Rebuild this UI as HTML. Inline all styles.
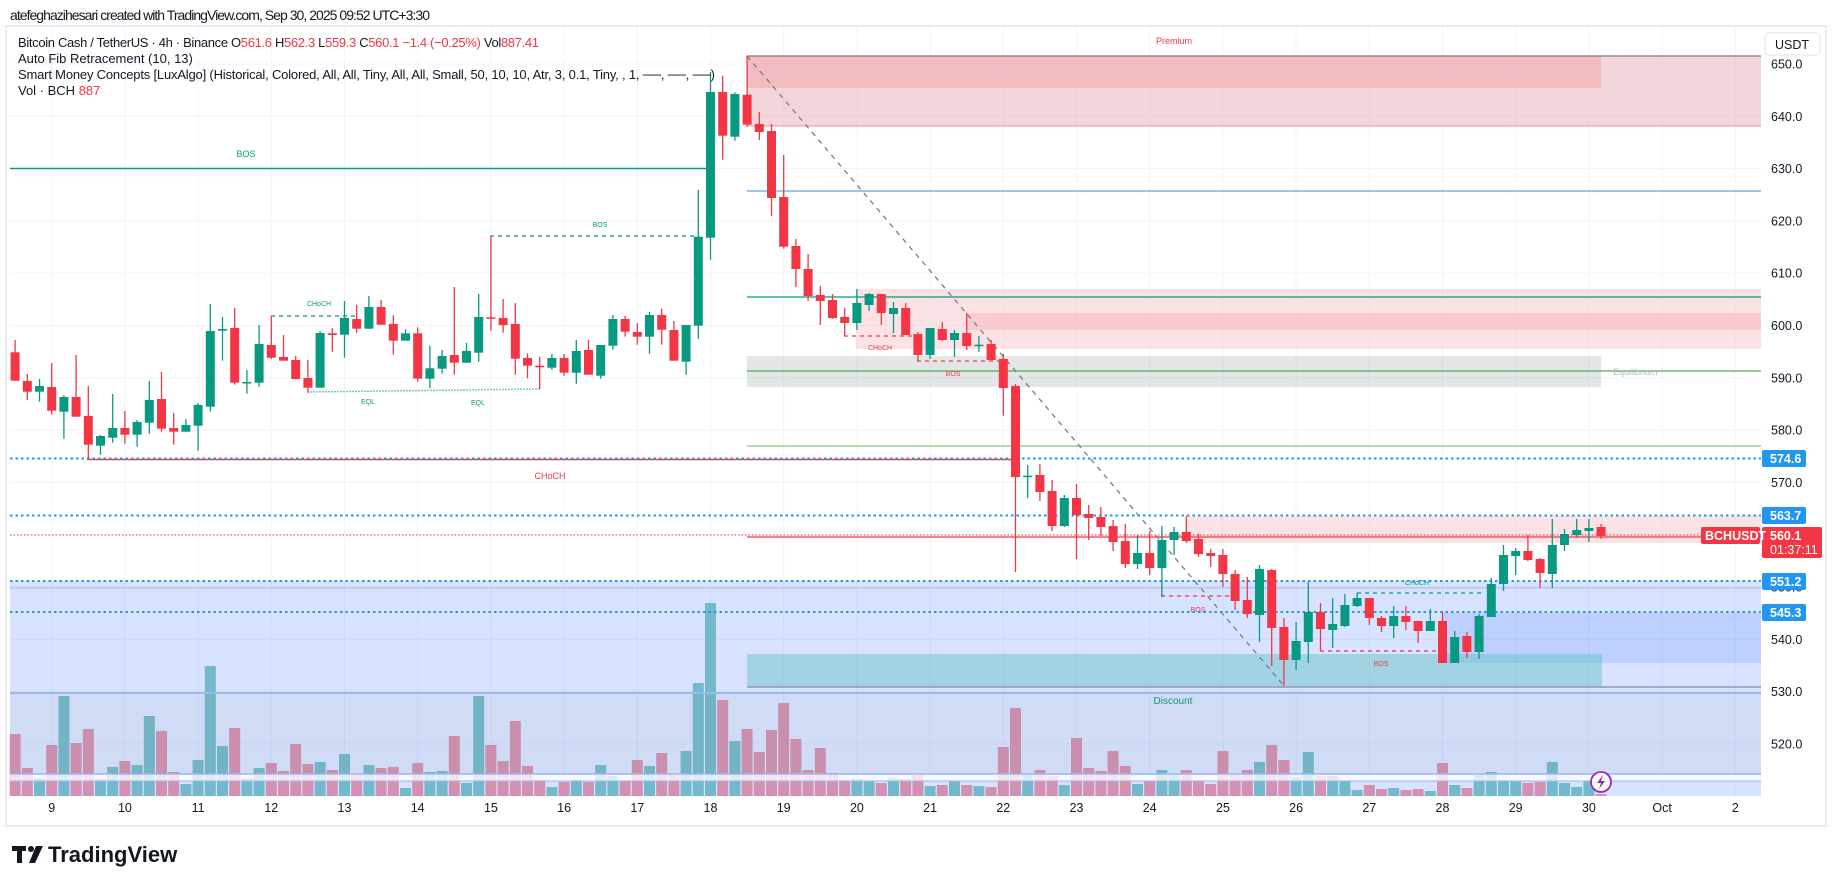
<!DOCTYPE html>
<html><head><meta charset="utf-8"><style>
html,body{margin:0;padding:0;background:#fff;width:1835px;height:883px;overflow:hidden}
svg{display:block}
text{font-family:"Liberation Sans",sans-serif}
</style></head><body>
<svg id="s" width="1835" height="883" viewBox="0 0 1835 883" xmlns="http://www.w3.org/2000/svg">
<rect width="1835" height="883" fill="#fff"/>
<text x="10" y="20" font-size="14" fill="#131722" textLength="420">atefeghazihesari created with TradingView.com, Sep 30, 2025 09:52 UTC+3:30</text>
<rect x="6" y="26" width="1820" height="800" fill="#fff" stroke="#e9ebf0" stroke-width="2"/>
<g id="grid"></g>
<g id="vol"></g>
<!-- zones -->
<rect x="10" y="581" width="1751" height="215" fill="#2962ff" opacity="0.18"/>
<rect x="10" y="693" width="1751" height="81" fill="#787b86" opacity="0.07"/>
<rect x="10" y="774" width="1751" height="7" fill="#fff" opacity="0.75"/>
<line x1="10" y1="588" x2="1761" y2="588" stroke="#aac0f0" stroke-width="1"/>
<line x1="10" y1="693" x2="1761" y2="693" stroke="#9fb5f0" stroke-width="2"/>
<line x1="10" y1="774" x2="1761" y2="774" stroke="#9fb5f0" stroke-width="1.5"/>
<line x1="10" y1="781" x2="1761" y2="781" stroke="#9fb5f0" stroke-width="1"/>
<rect x="1442" y="613" width="319" height="50" fill="#2962ff" opacity="0.15"/>
<rect x="747" y="654" width="855" height="33" fill="#5fbfc0" opacity="0.45"/>
<line x1="747" y1="687" x2="1761" y2="687" stroke="#8e96bd" stroke-width="1.5"/>
<rect x="747" y="56" width="1014" height="70" fill="#e8b4b9" opacity="0.55"/>
<rect x="747" y="56" width="854" height="32" fill="#f28a94" opacity="0.35"/>
<line x1="747" y1="56" x2="1761" y2="56" stroke="#787b86" stroke-width="1.2"/>
<line x1="747" y1="126" x2="1761" y2="126" stroke="#e39aa1" stroke-width="1"/>
<rect x="856" y="289" width="905" height="60" fill="#f7c6cb" opacity="0.5"/>
<rect x="966" y="313" width="795" height="17" fill="#f2a0a8" opacity="0.35"/>
<rect x="1187" y="516" width="574" height="27" fill="#f7c6cb" opacity="0.5"/>
<rect x="747" y="356" width="854" height="31" fill="#9598a1" opacity="0.25"/>
<!-- fib lines -->
<line x1="747" y1="191" x2="1761" y2="191" stroke="#64a5e0" stroke-width="1.3"/>
<line x1="747" y1="297" x2="1761" y2="297" stroke="#089981" stroke-width="1.3"/>
<line x1="747" y1="371" x2="1761" y2="371" stroke="#4caf50" stroke-width="1.3"/>
<line x1="747" y1="446" x2="1761" y2="446" stroke="#81c784" stroke-width="1.3"/>
<line x1="747" y1="537" x2="1761" y2="537" stroke="#f23645" stroke-width="1.3"/>
<line x1="747" y1="56" x2="1285" y2="687" stroke="#787b86" stroke-width="1.3" stroke-dasharray="5 5"/>
<!-- structure lines -->
<line x1="10" y1="168.5" x2="708" y2="168.5" stroke="#089981" stroke-width="1.5"/>
<text x="246" y="157" font-size="9" fill="#089981" text-anchor="middle">BOS</text>
<line x1="87" y1="459.5" x2="1012" y2="459.5" stroke="#f23645" stroke-width="1.5"/>
<text x="550" y="479" font-size="9" fill="#f23645" text-anchor="middle">CHoCH</text>
<line x1="271" y1="316" x2="357" y2="316" stroke="#089981" stroke-width="1.3" stroke-dasharray="4 4"/>
<text x="319" y="306" font-size="7" fill="#089981" text-anchor="middle">CHoCH</text>
<line x1="307" y1="392" x2="539" y2="389" stroke="#7cc8b8" stroke-width="1.5" stroke-dasharray="2 1"/>
<text x="368" y="404" font-size="7" fill="#089981" text-anchor="middle">EQL</text>
<text x="478" y="405" font-size="7" fill="#089981" text-anchor="middle">EQL</text>
<line x1="490" y1="236" x2="695" y2="236" stroke="#089981" stroke-width="1.3" stroke-dasharray="4 4"/>
<text x="600" y="227" font-size="7" fill="#089981" text-anchor="middle">BOS</text>
<line x1="844" y1="336" x2="913" y2="336" stroke="#f23645" stroke-width="1.3" stroke-dasharray="4 4"/>
<text x="880" y="350" font-size="7" fill="#f23645" text-anchor="middle">CHoCH</text>
<line x1="917" y1="361" x2="1003" y2="361" stroke="#f23645" stroke-width="1.3" stroke-dasharray="4 4"/>
<text x="953" y="376" font-size="7" fill="#f23645" text-anchor="middle">BOS</text>
<line x1="1161" y1="596" x2="1230" y2="596" stroke="#f23645" stroke-width="1.3" stroke-dasharray="4 4"/>
<text x="1198" y="612" font-size="7" fill="#f23645" text-anchor="middle">BOS</text>
<line x1="1357" y1="593" x2="1485" y2="593" stroke="#089981" stroke-width="1.3" stroke-dasharray="4 4"/>
<text x="1417" y="585" font-size="7" fill="#089981" text-anchor="middle">CHoCH</text>
<line x1="1320" y1="651" x2="1437" y2="651" stroke="#f23645" stroke-width="1.3" stroke-dasharray="4 4"/>
<text x="1381" y="666" font-size="7" fill="#f23645" text-anchor="middle">BOS</text>
<text x="1174" y="44" font-size="9" fill="#f23645" text-anchor="middle">Premium</text>
<text x="1613" y="375" font-size="9" fill="#b2b5be">Equilibrium</text>
<text x="1173" y="704" font-size="10" fill="#089981" text-anchor="middle">Discount</text>
<!-- price lines -->
<g stroke="#2196f3" stroke-width="2" stroke-dasharray="2.5 3">
<line x1="10" y1="458.5" x2="1761" y2="458.5"/>
<line x1="10" y1="515.5" x2="1761" y2="515.5"/>
<line x1="10" y1="581" x2="1761" y2="581"/>
<line x1="10" y1="612" x2="1761" y2="612"/>
</g>
<line x1="10" y1="535" x2="1761" y2="535" stroke="#f23645" stroke-width="1" stroke-dasharray="1.5 2"/>
<g id="cd"></g>
<circle cx="1601" cy="782" r="10" fill="#fff" stroke="#9c27b0" stroke-width="1.8"/>
<path d="M1603 775 L1597 783 L1601 783 L1599 789 L1605 781 L1601 781 Z" fill="#9c27b0"/>
<!-- legend -->
<g font-size="13" fill="#131722">
<text x="18" y="47" textLength="521">Bitcoin Cash / TetherUS · 4h · Binance  O<tspan fill="#f23645">561.6</tspan>  H<tspan fill="#f23645">562.3</tspan>  L<tspan fill="#f23645">559.3</tspan>  C<tspan fill="#f23645">560.1</tspan>  <tspan fill="#f23645">−1.4 (−0.25%)</tspan>  Vol<tspan fill="#f23645">887.41</tspan></text>
<text x="18" y="63">Auto Fib Retracement (10, 13)</text>
<text x="18" y="79" textLength="697">Smart Money Concepts [LuxAlgo] (Historical, Colored, All, All, Tiny, All, All, Small, 50, 10, 10, Atr, 3, 0.1, Tiny, , 1, ──, ──, ──)</text>
<text x="18" y="95">Vol · BCH  <tspan fill="#f23645">887</tspan></text>
</g>
<!-- axes -->
<rect x="1761" y="27" width="64" height="769" fill="#fff"/>
<g id="ax" font-size="12.5" fill="#131722"></g>
<rect x="1765" y="33" width="55" height="22" rx="4" fill="#fff" stroke="#e0e3eb"/>
<text x="1792" y="49" font-size="12.5" fill="#131722" text-anchor="middle">USDT</text>
<g font-size="12.5" font-weight="bold" fill="#fff">
<rect x="1762" y="450" width="44" height="17" rx="2" fill="#2196f3"/><text x="1770" y="463">574.6</text>
<rect x="1762" y="507" width="44" height="17" rx="2" fill="#2196f3"/><text x="1770" y="520">563.7</text>
<rect x="1762" y="573" width="44" height="17" rx="2" fill="#2196f3"/><text x="1770" y="586">551.2</text>
<rect x="1762" y="604" width="44" height="17" rx="2" fill="#2196f3"/><text x="1770" y="617">545.3</text>
<rect x="1762" y="527" width="60" height="31" rx="2" fill="#f23645"/><text x="1770" y="540">560.1</text><text x="1770" y="554" font-weight="normal">01:37:11</text>
<rect x="1701" y="527" width="59" height="17" rx="2" fill="#f23645"/><text x="1705" y="540">BCHUSDT</text>
</g>
<g id="dt" font-size="12.5" fill="#131722" text-anchor="middle"></g>
<!-- logo -->
<g fill="#131722">
<rect x="12" y="846" width="14" height="5"/><rect x="17" y="846" width="5" height="17"/>
<circle cx="31" cy="849" r="3"/><path d="M36 846 L43 846 L35 863 L29 863 Z"/>
<text x="48" y="862" font-size="22" font-weight="bold">TradingView</text>
</g>
</svg>
<script>
(function(){
var NS="http://www.w3.org/2000/svg";
function el(p,t,a,txt){var e=document.createElementNS(NS,t);for(var k in a)e.setAttribute(k,a[k]);if(txt!=null)e.textContent=txt;p.appendChild(e);return e;}
var X=function(k){return 51.7+k*12.2;};
var Y=function(p){return 325.5-(p-600)*5.23;};
var g=document.getElementById('grid');
for(var p=520;p<=650;p+=10)el(g,'line',{x1:10,x2:1761,y1:Y(p),y2:Y(p),stroke:'#f0f3fa','stroke-width':1});
for(var n=0;n<24;n++)el(g,'line',{x1:X(n*6),x2:X(n*6),y1:27,y2:796,stroke:'#f0f3fa','stroke-width':1});
var C=[[352.3,380.7,340,380.7],[381,391.7,374,400],[391.7,386,379,401.7],[387,410.7,363,414.7],[411.7,397,395,438.7],[397,416.7,355,416.7],[416,444.7,386,459.3],[445.7,436,435,454.7],[437.7,428,394,442.7],[428,434.7,411,443.7],[434.7,422,420,446.7],[422.7,400,381,433.7],[399,428.7,372,431.7],[428,431.7,413,444.7],[431.7,425,419,431.7],[425.7,405,403,450.7],[406.7,331,304,411.7],[330.7,329,317,360.7],[328,382.7,308,384.7],[382.7,382,370,393.7],[382.7,344,325,386.7],[345,357.7,316,359],[357,360.7,335,360.7],[360,379,356,379.7],[378,387.7,360,392.7],[387.7,333,331,387.7],[333.3,335,328,351.7],[334.7,318,301,357.7],[319,328.7,305,333],[328.7,307,296,328.7],[307,324.7,300,325],[324,340.7,315.3,354.7],[340.7,333.3,329.3,340.7],[333.3,378.7,327.3,381.7],[378.7,368.3,345.7,388.3],[368.7,356,350,373.7],[355,362.7,287,374.7],[362.7,351,343,362.7],[352.7,317,294,361.7],[317.3,318.7,236,330.7],[318,325,299,332.7],[324,358.7,303,374.7],[358,365.7,353.3,378.3],[365.7,367.3,357,389.3],[367.7,358,354,369.7],[358,372.7,354,375.7],[372.7,351,340,383.7],[350,374.7,340,374.7],[375.7,345,345,378.7],[345.7,319,315,349.7],[319,331.7,316,336.7],[332,336.7,323,344.7],[336.7,315,312,353.7],[315,329.7,308.7,344.7],[330,360.7,321,360.7],[361.7,325,325,374.7],[325.7,236.7,190,338.7],[237.7,92,72,259.7],[92,135.7,75.7,159.7],[136.7,94,92.3,140.7],[94.7,124.7,56,127],
[124,132,112,140],[131,198,124,216],[197,246.7,155,248.7],[246,269,239,287],[269,296,254,301],[295,301,286,325],[300,318,294,319],[317,323,308,336],[323,303,289,330],[305,294,293,311],[294,313,294,325],[314,308,302,333],[308,335,303,335],[334,355,332,361],[355,328,328,359],[329,340,322,341],[340,333,330,357],[333,346,313,350],[345,344.7,336,352],[344,360,340,360],[359,388,354,415.7],
[386,477,384,572],[476,475.7,465,498],[475,492,464,501],[491,526,480,531],[526,498,495,527],[498,515,484,559],[514,518,505,540],[517,527,507,536],[526,542,520,551],[541,564,524,568],[564,553,535,569],[553,568,531,575],[568,540,526,597],[540,532,527,555],[532,541,516,543],[539,554,534,557],[553,556,549,567],[555,574,549,587],[574,601,570,610],[600,614,577,618],[615,569,565,642],[570,628,569,666],[627,660,618,686],[660,641,622,670],[642,612,582,663],[612,629,603,651],[630,624,598,648],[626,605,594,627],[606,598,593,607],
[598,618,598,625],[618,626,616,632],[626,616,606,638],[616,622,606,630],[621,631,621,643],[631,621,609,631],[621,663,612,663],[663,637,631,663],[636,652,632,658],[652,616,614,659],[617,584,578,617],[584,555,545,591],[556,551,548,575],[551,560,535,561],[559,573,558,588],[574,545,519,588],[545,534,529,551],[535,530,519,537],[531,528,519,542],[527,536,524,539]];
var V=[432,534,564,465,318,459,417,567,531,513,525,378,423,546,582,510,228,468,414,564,534,519,543,462,522,516,540,492,552,525,534,531,594,519,546,543,438,579,318,465,513,393,528,570,591,576,570,576,525,558,573,510,528,489,555,483,279,39,330,453,417,486,420,339,447,540,
474,549,570,567,573,579,564,567,555,588,585,573,585,588,591,471,354,552,540,558,585,444,534,543,483,528,582,573,540,552,540,573,582,483,552,540,516,465,510,561,486,558,558,573,600,585,597,594,600,597,603,519,585,594,552,546,570,573,579,576,516,579,591,570,612];
var gv=document.getElementById('vol'),gc=document.getElementById('cd');
for(var i=0;i<C.length;i++){var k=i-3,c=C[i],x=X(k),up=c[1]<c[0];
 var vt=590+V[i]/3;
 el(gv,'rect',{x:x-5.5,y:vt,width:11,height:796-vt,fill:up?'#84ccc0':'#f89ba2'});
 var col=up?'#089981':'#f23645';
 el(gc,'line',{x1:x,x2:x,y1:c[2],y2:c[3],stroke:col,'stroke-width':1.3});
 var t=Math.min(c[0],c[1]),h=Math.max(1.5,Math.abs(c[0]-c[1]));
 el(gc,'rect',{x:x-4.5,y:t,width:9,height:h,fill:col});
}
var ax=document.getElementById('ax');
for(var p=520;p<=650;p+=10){if(p==560)continue;el(ax,'text',{x:1771,y:Y(p)+4.5},p.toFixed(1));}
var dt=document.getElementById('dt');
var L=['9','10','11','12','13','14','15','16','17','18','19','20','21','22','23','24','25','26','27','28','29','30','Oct','2'];
for(var n=0;n<24;n++)el(dt,'text',{x:X(n*6),y:812},L[n]);
})();
</script>
</body></html>
